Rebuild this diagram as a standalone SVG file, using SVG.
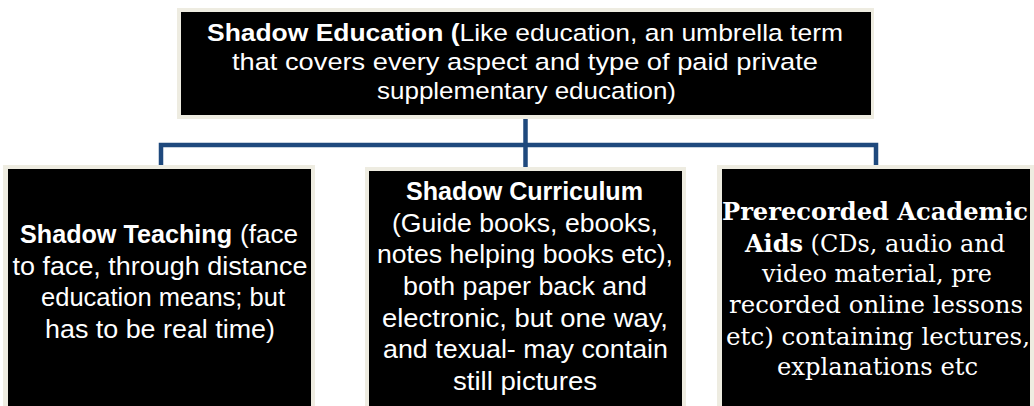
<svg xmlns="http://www.w3.org/2000/svg" width="1034" height="406" viewBox="0 0 1034 406">
<style>
.frame{fill:#EEECE1}
.box{fill:#000}
.sans{font-family:"Liberation Sans",Arial,sans-serif;fill:#fff;text-anchor:middle}
.serif{font-family:"DejaVu Serif","Liberation Serif",serif;fill:#fff;text-anchor:middle;font-size:24px}
.st{text-anchor:start}
.t{font-size:24.5px}
.l{font-size:26.5px}
.c{font-size:26.5px}
.b{font-weight:bold}
.conn{fill:none;stroke:#1F497D;stroke-width:4.5}
</style>
<rect width="1034" height="406" fill="#fff"/>
<g id="connectors">
<path class="conn" d="M161,166 V145 H876 V166"/>
<path class="conn" d="M525.5,119 V167"/>
</g>
<g id="node-top">
<rect class="frame" x="177" y="8" width="697" height="111"/>
<rect class="box" x="181" y="12" width="690" height="103"/>
<text class="sans t" x="525" y="41" textLength="636" lengthAdjust="spacingAndGlyphs"><tspan class="b">Shadow Education (</tspan>Like education, an umbrella term</text>
<text class="sans t" x="525" y="70" textLength="586" lengthAdjust="spacingAndGlyphs">that covers every aspect and type of paid private</text>
<text class="sans t" x="526.5" y="99" textLength="299" lengthAdjust="spacingAndGlyphs">supplementary education)</text>
</g>
<g id="node-teaching">
<rect class="frame" x="3" y="165" width="312" height="250"/>
<rect class="box" x="8" y="169" width="303" height="250"/>
<text class="sans l b st" x="20" y="243" textLength="212" lengthAdjust="spacingAndGlyphs">Shadow Teaching</text>
<text class="sans l st" x="240" y="243" textLength="58" lengthAdjust="spacingAndGlyphs">(face</text>
<text class="sans l" x="160" y="274.5" textLength="295" lengthAdjust="spacingAndGlyphs">to face, through distance</text>
<text class="sans l" x="163" y="306" textLength="244" lengthAdjust="spacingAndGlyphs">education means; but</text>
<text class="sans l" x="160" y="337.5" textLength="230" lengthAdjust="spacingAndGlyphs">has to be real time)</text>
</g>
<g id="node-curriculum">
<rect class="frame" x="365" y="167" width="321" height="250"/>
<rect class="box" x="369" y="171" width="313" height="250"/>
<text class="sans c b" x="524.5" y="200" textLength="237" lengthAdjust="spacingAndGlyphs">Shadow Curriculum</text>
<text class="sans c" x="525" y="232" textLength="266" lengthAdjust="spacingAndGlyphs">(Guide books, ebooks,</text>
<text class="sans c" x="525" y="263" textLength="296" lengthAdjust="spacingAndGlyphs">notes helping books etc),</text>
<text class="sans c" x="525" y="295" textLength="244" lengthAdjust="spacingAndGlyphs">both paper back and</text>
<text class="sans c" x="525" y="327" textLength="286" lengthAdjust="spacingAndGlyphs">electronic, but one way,</text>
<text class="sans c" x="525.5" y="358" textLength="285" lengthAdjust="spacingAndGlyphs">and texual- may contain</text>
<text class="sans c" x="525" y="390" textLength="144" lengthAdjust="spacingAndGlyphs">still pictures</text>
</g>
<g id="node-aids">
<rect class="frame" x="717" y="165" width="317" height="250"/>
<rect class="box" x="722" y="169" width="308" height="250"/>
<text class="serif b" x="875" y="220" textLength="306" lengthAdjust="spacingAndGlyphs">Prerecorded Academic</text>
<text class="serif" x="875" y="252" textLength="260" lengthAdjust="spacingAndGlyphs"><tspan class="b">Aids</tspan> (CDs, audio and</text>
<text class="serif" x="877" y="282" textLength="230" lengthAdjust="spacingAndGlyphs">video material, pre</text>
<text class="serif" x="876" y="313" textLength="294" lengthAdjust="spacingAndGlyphs">recorded online lessons</text>
<text class="serif" x="878" y="345" textLength="304" lengthAdjust="spacingAndGlyphs">etc) containing lectures,</text>
<text class="serif" x="877.5" y="375" textLength="201" lengthAdjust="spacingAndGlyphs">explanations etc</text>
</g>
</svg>
